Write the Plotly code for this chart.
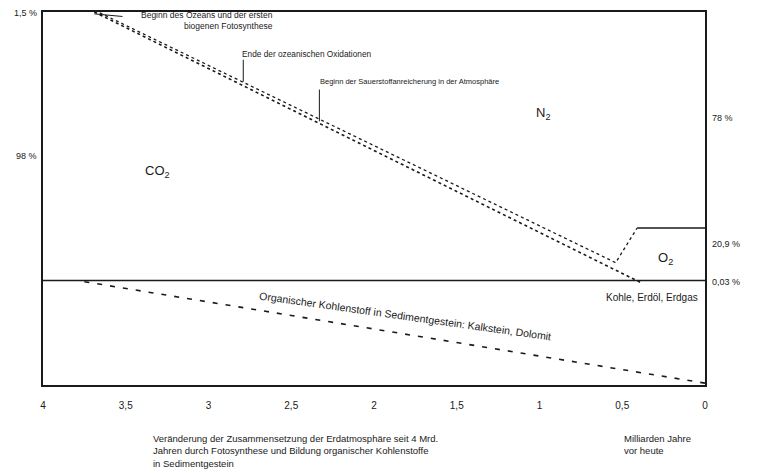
import plotly.graph_objects as go

# ---- data (age in Mrd. Jahre, y on a 0-100 chart scale) ----
tick_vals = [4, 3.5, 3, 2.5, 2, 1.5, 1, 0.5, 0]
tick_text = ["4", "3,5", "3", "2,5", "2", "1,5", "1", "0,5", "0"]

# boundary CO2 / N2 (lower dotted line)
co2_n2_age = [3.69, 0.39]
co2_n2_y = [100, 27.5]

# boundary N2 / O2 (upper dotted line, bending into the O2 field)
n2_o2_age = [3.69, 0.54, 0.41, 0.0]
n2_o2_y = [100.5, 32.8, 42.1, 42.1]

# limit atmosphere / sediments
sed_top_age = [4, 0]
sed_top_y = [28, 28]

# organic carbon in sediments (dashed)
org_c_age = [3.75, 0.0]
org_c_y = [27.7, 0.5]

# event markers
event_tick_age = [2.79, 2.33]
event_tick_y0 = [87.2, 79.2]
event_tick_y1 = [81.3, 70.7]

labels_right = ["78 %", "20,9 %", "0,03 %"]
labels_right_y = [71.5, 37.9, 27.7]
labels_left = ["1,5 %", "98 %"]
labels_left_y = [99.7, 61.3]

font = "Liberation Sans, Arial, sans-serif"
ink = "#1a1a1a"

fig = go.Figure()

def line(x, y, dash="solid", width=1.4, color=ink):
    fig.add_trace(go.Scatter(x=x, y=y, mode="lines", hoverinfo="skip",
                             line=dict(color=color, width=width, dash=dash),
                             showlegend=False))

line(co2_n2_age, co2_n2_y, dash="dot", width=1.6)
line(n2_o2_age[:3], n2_o2_y[:3], dash="dot", width=1.3)
line(n2_o2_age[2:], n2_o2_y[2:], width=1.5)
line(sed_top_age, sed_top_y, width=1.6)
line(org_c_age, org_c_y, dash="5px,8px", width=1.6)
# small connector of the first event label
line([3.69, 3.52], [99.5, 98.8], width=1.0)
for a, y0, y1 in zip(event_tick_age, event_tick_y0, event_tick_y1):
    line([a, a], [y0, y1], width=1.0)

ann = []
def txt(x, y, t, size=8, xanchor="center", angle=0, align="left", yanchor="middle", xshift=0, yshift=0):
    ann.append(dict(x=x, y=y, xref="x", yref="y", text=t, showarrow=False,
                    xanchor=xanchor, yanchor=yanchor, align=align, textangle=angle,
                    xshift=xshift, yshift=yshift,
                    font=dict(family=font, size=size, color=ink)))

txt(3.31, 57.3, "CO<sub>2</sub>", size=13)
txt(0.98, 72.8, "N<sub>2</sub>", size=13)
txt(0.24, 33.9, "O<sub>2</sub>", size=13)
txt(2.60, 97.7, "Beginn des Ozeans und der ersten<br>biogenen Fotosynthese", size=8.5,
    xanchor="right", align="right")
txt(2.81, 88.8, "Ende der ozeanischen Oxidationen", size=8.3, xanchor="left")
txt(2.34, 81.3, "Beginn der Sauerstoffanreicherung in der Atmosphäre", size=7.5, xanchor="left")
txt(0.03, 23.5, "Kohle, Erdöl, Erdgas", size=10, xanchor="right")
txt(1.81, 18.6, "Organischer Kohlenstoff in Sedimentgestein: Kalkstein, Dolomit",
    size=10.5, angle=8)
for t, y in zip(labels_right, labels_right_y):
    txt(0, y, t, size=9, xanchor="left", xshift=5)
for t, y in zip(labels_left, labels_left_y):
    txt(4, y, t, size=9, xanchor="right", xshift=-4)
txt(3.35, 0, "Veränderung der Zusammensetzung der Erdatmosphäre seit 4 Mrd.<br>"
             "Jahren durch Fotosynthese und Bildung organischer Kohlenstoffe<br>"
             "in Sedimentgestein", size=9.5, xanchor="left", yanchor="top", yshift=-46)
txt(0.5, 0, "Milliarden Jahre<br>vor heute", size=9.5, xanchor="left", yanchor="top", yshift=-46)

# page body has an 8px margin: shrink figure and margins to keep the plot area in place
fig.update_layout(
    width=750, height=465,
    margin=dict(l=35, r=53, t=2, b=88),
    paper_bgcolor="white", plot_bgcolor="white",
    annotations=ann,
    xaxis=dict(range=[4, 0], tickvals=tick_vals, ticktext=tick_text,
               showgrid=False, zeroline=False, showline=True, mirror=True,
               linecolor=ink, linewidth=1.6, ticks="", ticklabelstandoff=10,
               tickfont=dict(family=font, size=10, color=ink)),
    yaxis=dict(range=[0, 100], showticklabels=False, showgrid=False, zeroline=False,
               showline=True, mirror=True, linecolor=ink, linewidth=1.6, ticks=""),
)

fig.write_html("out.html")
